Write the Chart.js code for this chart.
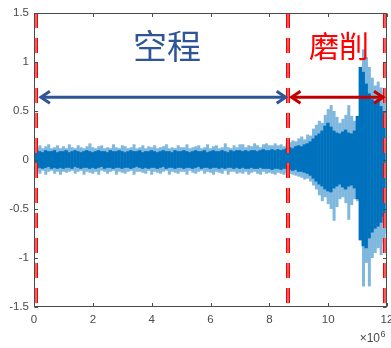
<!DOCTYPE html>
<html>
<head>
<meta charset="utf-8">
<script src="https://cdn.jsdelivr.net/npm/chart.js@4"></script>
<style>
html,body{margin:0;padding:0;background:#fff;}
#wrap{width:391px;height:348px;}
</style>
</head>
<body>
<div id="wrap"><canvas id="c" width="391" height="348"></canvas></div>
<script>
// ---- data (x in units of 10^6 samples, bins of 0.1) ----
const binWidth = 0.1;
const coreHi = [
0.09,0.10,0.09,0.08,0.10,0.09,0.09,0.10,0.08,0.09,
0.09,0.10,0.08,0.09,0.10,0.09,0.08,0.09,0.10,0.09,
0.08,0.09,0.10,0.09,0.09,0.08,0.10,0.09,0.09,0.10,
0.09,0.08,0.09,0.10,0.09,0.09,0.10,0.08,0.09,0.09,
0.10,0.09,0.08,0.09,0.10,0.09,0.09,0.08,0.10,0.09,
0.09,0.10,0.09,0.08,0.09,0.10,0.09,0.09,0.10,0.08,
0.09,0.10,0.09,0.09,0.10,0.09,0.08,0.10,0.09,0.10,
0.10,0.09,0.10,0.09,0.10,0.10,0.09,0.10,0.11,0.10,
0.10,0.11,0.10,0.11,0.10,0.11,0.12,0.13,0.12,0.14,
0.15,0.14,0.16,0.17,0.19,0.22,0.25,0.27,0.30,0.35,
0.38,0.34,0.30,0.28,0.27,0.29,0.31,0.28,0.27,0.30,
0.45,0.95,0.90,0.78,0.68,0.62,0.60,0.62,0.55,0.50];
const coreLo = [
-0.08,-0.09,-0.08,-0.09,-0.08,-0.07,-0.09,-0.08,-0.09,-0.08,
-0.09,-0.08,-0.08,-0.09,-0.07,-0.08,-0.09,-0.08,-0.08,-0.09,
-0.08,-0.09,-0.08,-0.07,-0.09,-0.08,-0.08,-0.09,-0.08,-0.08,
-0.09,-0.08,-0.08,-0.09,-0.08,-0.07,-0.08,-0.09,-0.08,-0.09,
-0.08,-0.08,-0.09,-0.08,-0.07,-0.09,-0.08,-0.08,-0.09,-0.08,
-0.08,-0.09,-0.08,-0.08,-0.09,-0.08,-0.07,-0.09,-0.08,-0.08,
-0.09,-0.08,-0.08,-0.09,-0.08,-0.09,-0.08,-0.08,-0.09,-0.08,
-0.09,-0.08,-0.09,-0.09,-0.08,-0.09,-0.09,-0.08,-0.09,-0.09,
-0.09,-0.10,-0.09,-0.09,-0.10,-0.09,-0.09,-0.10,-0.11,-0.10,
-0.12,-0.12,-0.13,-0.14,-0.16,-0.19,-0.22,-0.25,-0.27,-0.30,
-0.32,-0.33,-0.29,-0.27,-0.25,-0.28,-0.30,-0.27,-0.26,-0.29,
-0.40,-0.82,-0.88,-0.90,-0.80,-0.74,-0.70,-0.68,-0.64,-0.58];
const outerHi = [
0.13,0.15,0.12,0.14,0.16,0.12,0.13,0.15,0.12,0.14,
0.12,0.16,0.13,0.12,0.15,0.13,0.12,0.14,0.17,0.13,
0.12,0.14,0.15,0.12,0.13,0.12,0.16,0.13,0.12,0.15,
0.14,0.12,0.13,0.16,0.12,0.13,0.15,0.12,0.14,0.13,
0.15,0.12,0.13,0.14,0.16,0.12,0.13,0.12,0.15,0.13,
0.13,0.16,0.12,0.13,0.14,0.15,0.12,0.13,0.16,0.12,
0.14,0.15,0.12,0.13,0.17,0.13,0.12,0.15,0.13,0.16,
0.16,0.13,0.15,0.14,0.17,0.15,0.13,0.16,0.17,0.15,
0.15,0.17,0.15,0.16,0.14,0.17,0.18,0.20,0.19,0.22,
0.24,0.21,0.26,0.25,0.32,0.36,0.40,0.38,0.46,0.52,
0.56,0.50,0.44,0.38,0.42,0.46,0.56,0.45,0.40,0.44,
0.72,1.13,1.05,0.95,0.84,0.76,0.80,0.74,0.70,0.62];
const outerLo = [
-0.12,-0.14,-0.11,-0.15,-0.12,-0.11,-0.14,-0.12,-0.15,-0.12,
-0.13,-0.12,-0.11,-0.14,-0.12,-0.11,-0.15,-0.12,-0.13,-0.14,
-0.12,-0.15,-0.11,-0.12,-0.14,-0.12,-0.11,-0.15,-0.12,-0.13,
-0.14,-0.12,-0.11,-0.15,-0.12,-0.12,-0.13,-0.14,-0.11,-0.15,
-0.12,-0.13,-0.14,-0.12,-0.11,-0.15,-0.12,-0.13,-0.14,-0.12,
-0.12,-0.15,-0.11,-0.13,-0.14,-0.12,-0.11,-0.14,-0.12,-0.13,
-0.15,-0.12,-0.13,-0.14,-0.11,-0.15,-0.12,-0.12,-0.14,-0.13,
-0.14,-0.12,-0.15,-0.13,-0.12,-0.14,-0.15,-0.12,-0.14,-0.13,
-0.14,-0.15,-0.13,-0.14,-0.15,-0.13,-0.14,-0.15,-0.16,-0.17,
-0.18,-0.20,-0.19,-0.22,-0.26,-0.30,-0.36,-0.42,-0.38,-0.45,
-0.50,-0.62,-0.48,-0.40,-0.38,-0.44,-0.61,-0.46,-0.40,-0.42,
-0.56,-1.29,-1.05,-1.29,-1.00,-0.95,-0.90,-0.97,-0.85,-0.75];

const xTicks = [0, 2, 4, 6, 8, 10, 12];
const yTicks = [-1.5, -1, -0.5, 0, 0.5, 1, 1.5];
const markerX = [0.068, 8.634, 11.932];      // red dashed boundaries
const idleArrowX = [0.2, 8.59];              // 空程 span
const grindArrowX = [8.72, 11.9];            // 磨削 span
const arrowY = 0.64;
const labels = [
  {text: '空程', x: 4.52, y: 1.16, color: '#2E5597', size: 34},
  {text: '磨削', x: 10.37, y: 1.166, color: '#FF0000', size: 30}
];

const binCenters = coreHi.map((_, i) => +(i * binWidth + binWidth / 2).toFixed(3));
const coreData = binCenters.map((x, i) => ({x, y: [coreLo[i], coreHi[i]]}));
const outerData = binCenters.map((x, i) => ({x, y: [outerLo[i], outerHi[i]]}));

function drawArrow(ctx, x1, x2, yy, color) {
  ctx.save();
  ctx.strokeStyle = color;
  ctx.lineWidth = 3;
  ctx.lineJoin = 'miter';
  ctx.lineCap = 'butt';
  ctx.beginPath();
  ctx.moveTo(x1 + 2, yy); ctx.lineTo(x2 - 2, yy);
  ctx.stroke();
  ctx.beginPath();
  ctx.moveTo(x1 + 10, yy - 6); ctx.lineTo(x1 + 1, yy); ctx.lineTo(x1 + 10, yy + 6);
  ctx.stroke();
  ctx.beginPath();
  ctx.moveTo(x2 - 10, yy - 6); ctx.lineTo(x2 - 1, yy); ctx.lineTo(x2 - 10, yy + 6);
  ctx.stroke();
  ctx.restore();
}

const overlay = {
  id: 'overlay',
  afterDatasetsDraw(chart) {
    const {ctx, chartArea: a, scales: {x, y}} = chart;
    ctx.save();
    // red dashed boundaries: red | pale | red strip, dashed 15 on / 10 off
    for (const v of markerX) {
      const px = Math.round(x.getPixelForValue(v));
      for (let yy = a.top; yy < a.bottom; yy += 25) {
        const h = Math.min(15, a.bottom - yy);
        ctx.fillStyle = '#FF0000';
        ctx.fillRect(px - 2, yy, 4, h);
        ctx.fillStyle = '#FFB3B3';
        ctx.fillRect(px - 0.5, yy, 1, h);
      }
    }
    const ay = y.getPixelForValue(arrowY);
    drawArrow(ctx, x.getPixelForValue(idleArrowX[0]), x.getPixelForValue(idleArrowX[1]), ay, '#2F5597');
    drawArrow(ctx, x.getPixelForValue(grindArrowX[0]), x.getPixelForValue(grindArrowX[1]), ay, '#C00000');
    ctx.textAlign = 'center';
    ctx.textBaseline = 'middle';
    for (const l of labels) {
      ctx.font = l.size + 'px "Noto Sans CJK SC"';
      ctx.fillStyle = l.color;
      ctx.fillText(l.text, x.getPixelForValue(l.x), y.getPixelForValue(l.y));
    }
    ctx.restore();
  },
  afterDraw(chart) {
    const {ctx, chartArea: a, scales: {x, y}} = chart;
    ctx.save();
    ctx.strokeStyle = '#4a4a4a';
    ctx.lineWidth = 1;
    const L = Math.round(a.left) + 0.5, R = Math.round(a.right) - 0.5;
    const T = Math.round(a.top) + 0.5, B = Math.round(a.bottom) - 0.5;
    ctx.strokeRect(L, T, R - L, B - T);
    ctx.beginPath();
    for (const t of xTicks) {
      const px = Math.round(x.getPixelForValue(t)) + 0.5;
      ctx.moveTo(px, B); ctx.lineTo(px, B - 3.5);
      ctx.moveTo(px, T); ctx.lineTo(px, T + 3.5);
    }
    for (const t of yTicks) {
      const py = Math.round(y.getPixelForValue(t)) + 0.5;
      ctx.moveTo(L, py); ctx.lineTo(L + 3.5, py);
      ctx.moveTo(R, py); ctx.lineTo(R - 3.5, py);
    }
    ctx.stroke();
    // exponent label
    ctx.fillStyle = '#4a4a4a';
    ctx.textBaseline = 'alphabetic';
    ctx.textAlign = 'right';
    ctx.font = '12px "Liberation Sans", Arial, sans-serif';
    ctx.fillText('×10', 380, 342);
    ctx.textAlign = 'left';
    ctx.font = '9px "Liberation Sans", Arial, sans-serif';
    ctx.fillText('6', 380.5, 337);
    ctx.restore();
  }
};

new Chart(document.getElementById('c'), {
  type: 'bar',
  data: {
    datasets: [
      {data: coreData, backgroundColor: '#0072BD', borderWidth: 0, inflateAmount: 0,
       barThickness: 3.4, order: 0, xAxisID: 'x'},
      {data: outerData, backgroundColor: 'rgba(0,114,189,0.5)', borderWidth: 0, inflateAmount: 0,
       barThickness: 3.0, order: 1, xAxisID: 'x2'}
    ]
  },
  options: {
    responsive: false,
    animation: false,
    devicePixelRatio: 1,
    layout: {padding: {top: 13, right: 4, left: 0, bottom: 0}},
    plugins: {legend: {display: false}, tooltip: {enabled: false}},
    scales: {
      x: {
        type: 'linear', min: 0, max: 12, offset: false,
        grid: {display: false, offset: false, drawTicks: false},
        border: {display: false},
        afterBuildTicks: s => { s.ticks = xTicks.map(v => ({value: v})); },
        afterFit: s => { s.height = 41; s.paddingLeft = 0; s.paddingRight = 0; },
        ticks: {color: '#4a4a4a', padding: 6, maxRotation: 0, autoSkip: false,
                callback: v => String(v),
                font: {family: '"Liberation Sans", Arial, sans-serif', size: 11.5}}
      },
      x2: {
        type: 'linear', min: 0, max: 12, offset: false, display: false,
        grid: {display: false, offset: false}
      },
      y: {
        type: 'linear', min: -1.5, max: 1.5,
        grid: {display: false, drawTicks: false},
        border: {display: false},
        afterBuildTicks: s => { s.ticks = yTicks.map(v => ({value: v})); },
        afterFit: s => { s.width = 34; s.paddingTop = 0; s.paddingBottom = 0; },
        ticks: {color: '#4a4a4a', padding: 5, autoSkip: false,
                callback: v => String(v),
                font: {family: '"Liberation Sans", Arial, sans-serif', size: 11.5}}
      }
    }
  },
  plugins: [overlay]
});
</script>
</body>
</html>
